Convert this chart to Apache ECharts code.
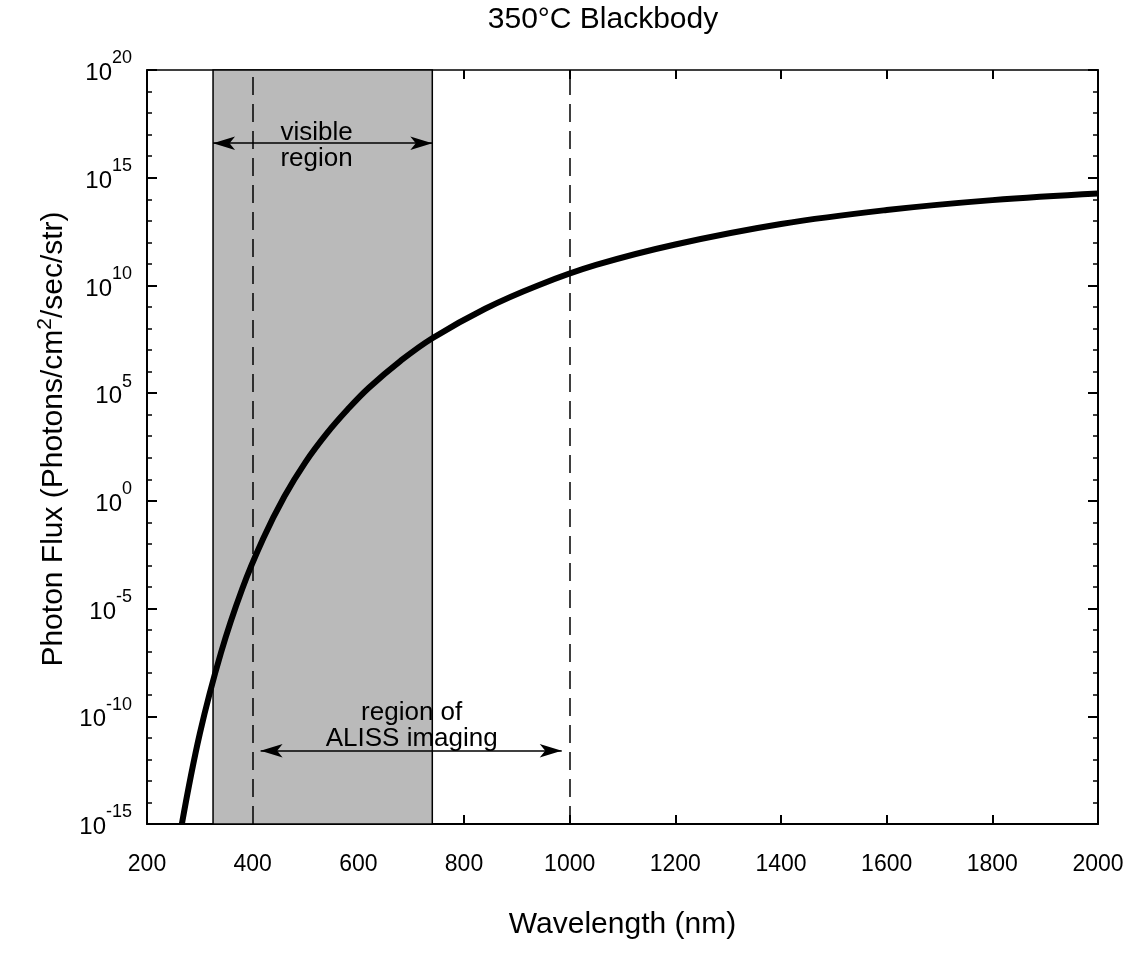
<!DOCTYPE html>
<html><head><meta charset="utf-8">
<script src="https://cdn.jsdelivr.net/npm/echarts@6/dist/echarts.min.js"></script>
<style>html,body{margin:0;padding:0;background:#fff}#c{width:1136px;height:958px}</style>
</head><body><div id="c"></div>
<script>
// Wavelength (nm) and log10 of photon flux
const wavelengths = [266, 300, 340, 380, 420, 460, 500, 540, 580, 620, 680, 740, 840, 940, 1050, 1200, 1400, 1600, 1800, 2000];
const logFlux     = [-15.0, -10.8, -7.05, -4.1, -1.75, 0.2, 1.8, 3.12, 4.25, 5.25, 6.5, 7.55, 8.92, 10.0, 10.95, 11.9, 12.85, 13.5, 13.96, 14.27];
// Annotation values
const visibleRange = [325, 740];
const alissLines = [400, 1000];
const visibleArrow = { from: 325, to: 740, y: 16.6 };
const alissArrow = { from: 415, to: 985, y: -11.6 };
const visibleLabel = { text: 'visible\nregion', x: 521, y: 16.5 };
const alissLabel = { text: 'region of\nALISS imaging', x: 701, y: -10.45 };
const titleText = '350°C Blackbody';

const FONT = '"Liberation Sans", Arial, Helvetica, sans-serif';
const chart = echarts.init(document.getElementById('c'), null, { renderer: 'canvas' });

const tickStyle = { color: '#000', width: 2 };
const xBase = { type: 'value', min: 200, max: 2000, interval: 200, splitLine: { show: false } };
const yBase = { type: 'value', min: -15, max: 20, interval: 5, splitLine: { show: false } };

const option = {
  animation: false,
  backgroundColor: '#fff',
  grid: { left: 147, right: 38, top: 70, bottom: 134 },
  xAxis: [
    Object.assign({}, xBase, {
      position: 'bottom',
      axisLine: { onZero: false, lineStyle: { color: '#000', width: 2 } },
      axisTick: { inside: true, length: 9, lineStyle: tickStyle },
      axisLabel: { margin: 29, fontSize: 23, color: '#000', fontFamily: FONT, formatter: v => String(v) },
      name: 'Wavelength (nm)', nameLocation: 'middle', nameGap: 86,
      nameTextStyle: { fontSize: 30, color: '#000', fontFamily: FONT }
    }),
    Object.assign({}, xBase, {
      position: 'top',
      axisLine: { onZero: false, lineStyle: { color: '#000', width: 1.5 } },
      axisTick: { inside: true, length: 9, lineStyle: tickStyle },
      axisLabel: { show: false }
    })
  ],
  yAxis: [
    Object.assign({}, yBase, {
      position: 'left',
      axisLine: { onZero: false, lineStyle: { color: '#000', width: 2 } },
      axisTick: { inside: true, length: 10, lineStyle: tickStyle },
      minorTick: { show: true, splitNumber: 5, length: 5, lineStyle: { color: '#000', width: 1.5 } },
      axisLabel: {
        margin: 15, color: '#000', fontFamily: FONT,
        formatter: v => '{b|10}{e|' + v + '}',
        rich: {
          b: { fontSize: 24, padding: [0, 0, 5, 0], verticalAlign: 'bottom', fontFamily: FONT, color: '#000' },
          e: { fontSize: 18, padding: [0, 0, 23, 0], verticalAlign: 'top', fontFamily: FONT, color: '#000' }
        }
      },
      name: 'Photon Flux (Photons/cm{s|2}/sec/str)', nameLocation: 'middle', nameGap: 66,
      nameTextStyle: {
        fontSize: 30, color: '#000', fontFamily: FONT, padding: [0, 0, 0, 16],
        rich: { s: { fontSize: 21, padding: [0, 0, 17, 0], fontFamily: FONT, color: '#000' } }
      }
    }),
    Object.assign({}, yBase, {
      position: 'right',
      axisLine: { onZero: false, lineStyle: { color: '#000', width: 2 } },
      axisTick: { inside: true, length: 10, lineStyle: tickStyle },
      minorTick: { show: true, splitNumber: 5, length: 5, lineStyle: { color: '#000', width: 1.5 } },
      axisLabel: { show: false }
    })
  ],
  series: [
    {
      type: 'line', data: [], z: 1, silent: true,
      markArea: {
        silent: true,
        itemStyle: { color: '#bababa', borderColor: '#000', borderWidth: 1.5 },
        data: [[{ xAxis: visibleRange[0] }, { xAxis: visibleRange[1] }]]
      }
    },
    {
      type: 'line', data: [], z: 2, silent: true,
      markLine: {
        silent: true, symbol: 'none', label: { show: false },
        lineStyle: { color: '#000', width: 1.5, type: [18, 9] },
        data: alissLines.map(v => ({ xAxis: v }))
      }
    },
    {
      type: 'line', data: [], z: 2, silent: true,
      markLine: {
        silent: true, symbol: ['arrow', 'arrow'], symbolSize: [10, 22], label: { show: false },
        lineStyle: { color: '#000', width: 1.5, type: 'solid' },
        data: [
          [{ coord: [visibleArrow.from, visibleArrow.y] }, { coord: [visibleArrow.to, visibleArrow.y] }],
          [{ coord: [alissArrow.from, alissArrow.y] }, { coord: [alissArrow.to, alissArrow.y] }]
        ]
      }
    },
    {
      type: 'line', z: 3, silent: true,
      data: wavelengths.map((w, i) => [w, logFlux[i]]),
      showSymbol: false, smooth: 0.4, clip: true,
      lineStyle: { color: '#000', width: 6 }
    }
  ]
};
chart.setOption(option);

function place(lbl) {
  const p = chart.convertToPixel({ gridIndex: 0 }, [lbl.x, lbl.y]);
  return {
    type: 'text', x: p[0], y: p[1], z: 10,
    style: { text: lbl.text, textAlign: 'center', textVerticalAlign: 'middle', font: '26px ' + FONT, fill: '#000', lineHeight: 26 }
  };
}
chart.setOption({
  graphic: [
    { type: 'text', x: 603, y: 20, z: 10, style: { text: titleText, textAlign: 'center', textVerticalAlign: 'middle', font: '30px ' + FONT, fill: '#000' } },
    place(visibleLabel),
    place(alissLabel)
  ]
});
</script></body></html>
